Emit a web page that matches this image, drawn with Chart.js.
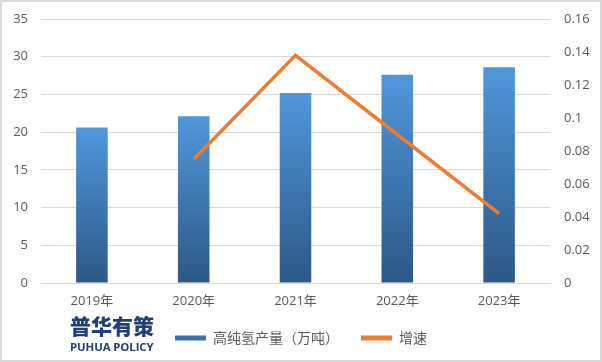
<!DOCTYPE html>
<html>
<head>
<meta charset="utf-8">
<script src="https://cdn.jsdelivr.net/npm/chart.js@4"></script>
<style>
  html, body { margin: 0; padding: 0; background: #fff; }
  #wrap {
    position: relative;
    width: 602px; height: 362px;
    box-sizing: border-box;
    border: 2px solid #d9d9d9;
    background: #fff;
  }
  #chart { position: absolute; left: 0; top: 0; }
  #logo {
    position: absolute; left: 68px; top: 313px;
    color: #1f3e74; font-family: "Noto Sans CJK SC", "Noto Sans", sans-serif;
    line-height: 1;
  }
  #logo .cn { font-size: 21px; font-weight: 900; }
  #logo .en { font-family: "Open Sans", sans-serif; font-size: 11.4px; font-weight: 700; margin-top: 5px; letter-spacing: -0.1px; }
</style>
</head>
<body>
<div id="wrap">
  <canvas id="chart" width="598" height="358"></canvas>
  <div id="logo"><div class="cn">普华有策</div><div class="en">PUHUA POLICY</div></div>
</div>
<script>
const years = ["2019年", "2020年", "2021年", "2022年", "2023年"];
const output = [20.6, 22.1, 25.2, 27.6, 28.6];
const growth = [null, 0.075, 0.138, 0.09, 0.042];
const leftTicks = [0, 5, 10, 15, 20, 25, 30, 35];
const rightTicks = [0, 0.02, 0.04, 0.06, 0.08, 0.1, 0.12, 0.14, 0.16];

const barTop = "#4f97dc";
const barBottom = "#2c5886";
const lineColor = "#ed7d31";
const tickColor = "#595959";
const gridColor = "#d9d9d9";
const font = { family: "'Open Sans', 'Noto Sans CJK SC', sans-serif", size: 13 };
const legendFont = { family: "'Noto Sans CJK SC', sans-serif", size: 14 };

function barGradient(ctx) {
  const chart = ctx.chart;
  const area = chart.chartArea;
  if (!area || ctx.parsed == null) return barTop;
  const y = chart.scales.y;
  const top = y.getPixelForValue(ctx.parsed.y);
  const bottom = y.getPixelForValue(0);
  const g = chart.ctx.createLinearGradient(0, top, 0, bottom);
  g.addColorStop(0, barTop);
  g.addColorStop(1, barBottom);
  return g;
}

const chart = new Chart(document.getElementById("chart"), {
  data: {
    labels: years,
    datasets: [
      {
        type: "line",
        label: "增速",
        data: growth,
        yAxisID: "y1",
        borderColor: lineColor,
        backgroundColor: lineColor,
        borderWidth: 3.5,
        pointRadius: 0,
        tension: 0,
        order: 0
      },
      {
        type: "bar",
        label: "高纯氢产量（万吨）",
        data: output,
        yAxisID: "y",
        backgroundColor: barGradient,
        borderWidth: 0,
        categoryPercentage: 1,
        barPercentage: 0.31,
        order: 1
      }
    ]
  },
  options: {
    responsive: false,
    animation: false,
    layout: { padding: { top: 17, left: 0, right: 0, bottom: 5 } },
    plugins: {
      tooltip: { enabled: false },
      legend: {
        position: "bottom",
        labels: {
          color: tickColor,
          font: legendFont,
          boxWidth: 31,
          boxHeight: 5,
          padding: 22,
          generateLabels(c) {
            // bar first, like the original legend
            return [
              { text: "高纯氢产量（万吨）", fillStyle: "#3a72ad", strokeStyle: "#3a72ad", lineWidth: 0, fontColor: tickColor, datasetIndex: 1 },
              { text: "增速", fillStyle: lineColor, strokeStyle: lineColor, lineWidth: 0, fontColor: tickColor, datasetIndex: 0 }
            ];
          }
        }
      }
    },
    scales: {
      x: {
        grid: { display: false, drawTicks: false },
        border: { display: true, color: gridColor, width: 1 },
        ticks: { color: tickColor, font: font, padding: 10 },
        afterFit(s) { s.height = 26; }
      },
      y: {
        position: "left",
        min: 0, max: 35,
        afterBuildTicks(s) { s.ticks = leftTicks.map(v => ({ value: v })); },
        // invisible tick marks push the labels out without padding the top
        grid: { color: gridColor, drawTicks: true, tickLength: 12, tickColor: "transparent" },
        border: { display: false },
        ticks: { color: tickColor, font: font, padding: 1 },
        afterFit(s) { s.width = 39; }
      },
      y1: {
        position: "right",
        min: 0, max: 0.16,
        afterBuildTicks(s) { s.ticks = rightTicks.map(v => ({ value: v })); },
        grid: { display: false, drawTicks: true, tickLength: 13 },
        border: { display: false },
        ticks: { color: tickColor, font: font, padding: 1, callback: v => String(Math.round(v * 100) / 100) },
        afterFit(s) { s.width = 50; }
      }
    }
  }
});
</script>
</body>
</html>
